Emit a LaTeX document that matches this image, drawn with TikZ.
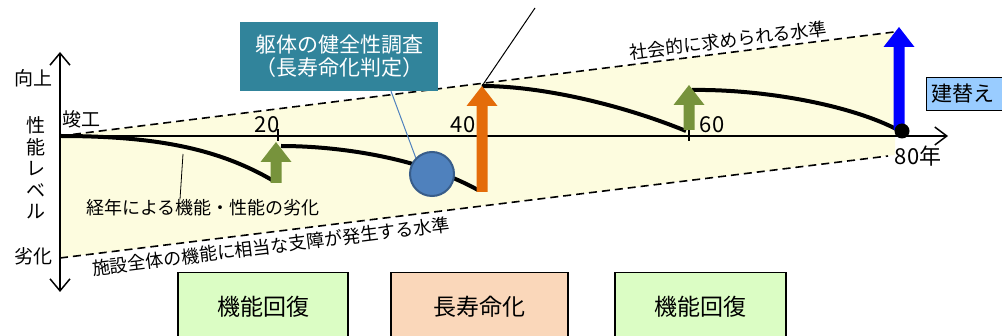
\documentclass[tikz,border=0pt]{standalone}
\usepackage{fontspec}
\setmainfont{Noto Sans CJK JP}
\usetikzlibrary{arrows.meta}
\definecolor{bandyellow}{HTML}{FDFCDF}
\definecolor{upgreen}{HTML}{77933C}
\definecolor{uporange}{HTML}{E46C0A}
\definecolor{checkblue}{HTML}{4F81BD}
\definecolor{checkedge}{HTML}{385D8A}
\definecolor{callteal}{HTML}{31849B}
\definecolor{rebuildblue}{HTML}{99CCFF}
\definecolor{stagegreen}{HTML}{DBFDC4}
\definecolor{stagepeach}{HTML}{FAD7BA}
\tikzstyle{level}=[dash pattern=on 8pt off 5pt, line width=1.6pt]
\tikzstyle{decline}=[line width=4pt]
\tikzstyle{axislabel}=[font=\fontsize{19}{21.5}\selectfont, inner sep=0pt]
\tikzstyle{ticklabel}=[font=\fontsize{22}{24}\selectfont, inner sep=0pt]
\tikzstyle{notelabel}=[font=\fontsize{18}{20}\selectfont, inner sep=0pt]
\tikzstyle{stagebox}=[draw, line width=1.5pt, minimum height=68pt, anchor=north, font=\fontsize{23}{25}\selectfont]
\newcommand{\bigarrow}[4]{% style, x, bottom, tip
\fill[#1] (#2-5.5,#3) -- (#2-5.5,#4+20) -- (#2-15.5,#4+20) -- (#2,#4) -- (#2+15.5,#4+20) -- (#2+5.5,#4+20) -- (#2+5.5,#3) -- cycle;}

\begin{document}
\begin{tikzpicture}[x=1pt, y=-1pt]
\useasboundingbox (0,0) rectangle (1002,336);
\clip (0,0) rectangle (1002,336);
% band between the two levels
\fill[bandyellow] (60,136) -- (895,32) -- (895,155) -- (60,258) -- cycle;
\coordinate (hitop) at (60,136);
\coordinate (hiend) at (894,32);
\coordinate (lotop) at (60,258);
\coordinate (loend) at (888,156);
\draw[level] (hitop) -- (hiend);
\draw[level] (lotop) -- (loend);
\node[notelabel, anchor=south west, rotate=7.1] at (631,61) (social) {社会的に求められる水準};
\node[notelabel, anchor=north west, rotate=7.1] at (91,260) (limit) {施設全体の機能に相当な支障が発生する水準};

% axes
\coordinate (origin) at (60,136);
\coordinate (yup) at (60,52);
\coordinate (ydown) at (60,292);
\coordinate (xend) at (948,136);
\draw[line width=1.5pt, -{Straight Barb[length=12pt,width=20pt]}] (origin) -- (yup);
\draw[line width=1.5pt, -{Straight Barb[length=12pt,width=20pt]}] (origin) -- (ydown);
\draw[line width=2pt, -{Straight Barb[length=12pt,width=18pt,line width=1.5pt]}] (origin) -- (xend);
\foreach \tx in {278, 482, 689}
  \draw[line width=1.5pt] (\tx,129) -- (\tx,141);

\node[axislabel] at (33,78) (better) {向上};
\node[axislabel, align=center] at (36,168) (perf) {性\\能\\レ\\ベ\\ル};
\node[axislabel] at (33,256) (worse) {劣化};
\node[axislabel] at (81,119) (done) {竣工};
\node[ticklabel] at (267,125) (t20) {20};
\node[ticklabel] at (463,125) (t40) {40};
\node[ticklabel] at (712,125) (t60) {60};
\node[ticklabel] at (918,156) (t80) {80年};

% performance curves
\draw[decline] (60,136) .. controls (160,136) and (220,150) .. (272,180);
\draw[decline] (281,146) .. controls (340,146) and (420,158) .. (478,190);
\draw[decline] (482,86) .. controls (540,86) and (620,104) .. (686,131);
\draw[decline] (692,90) .. controls (760,89) and (850,104) .. (900,131);

% repairs
\bigarrow{upgreen}{276}{183}{142}
\bigarrow{upgreen}{689}{130}{85}
\bigarrow{uporange}{482}{192}{86}
\bigarrow{blue}{899}{130}{27}
\coordinate (orangetip) at (482,86);
\coordinate (offtop) at (535,8);
\draw[line width=1pt] (orangetip) -- (offtop);
\fill (902,131) circle (7.5);

% ageing note
\node[notelabel] at (203,208) (ageing) {経年による機能・性能の劣化};
\coordinate (curvept) at (183,154);
\draw[line width=0.8pt] (curvept) -- (ageing.north -| 180,0);

% survey
\node[circle, fill=checkblue, draw=checkedge, line width=2pt, minimum size=44pt, inner sep=0pt] at (432,174) (survey) {};
\node[fill=callteal, text=white, align=center, minimum width=198pt, minimum height=69pt, inner sep=0pt, font=\fontsize{21}{23}\selectfont] at (339,56.5) (callout) {躯体の健全性調査\\（長寿命化判定）};
\draw[checkblue, line width=1pt] (callout.south -| 391,0) -- (survey.north west);

\node[draw, fill=rebuildblue, line width=0.8pt, anchor=north west, minimum height=33pt, text width=80pt, inner xsep=5pt, inner ysep=0pt, align=left, font=\fontsize{21}{23}\selectfont] at (926,77) (rebuild) {建替え};

% stages
\node[stagebox, fill=stagegreen, minimum width=170pt] at (263,272) (stage1) {機能回復};
\node[stagebox, fill=stagepeach, minimum width=177pt] at (479.5,272) (stage2) {長寿命化};
\node[stagebox, fill=stagegreen, minimum width=171pt] at (700.5,272) (stage3) {機能回復};
\end{tikzpicture}
\end{document}
